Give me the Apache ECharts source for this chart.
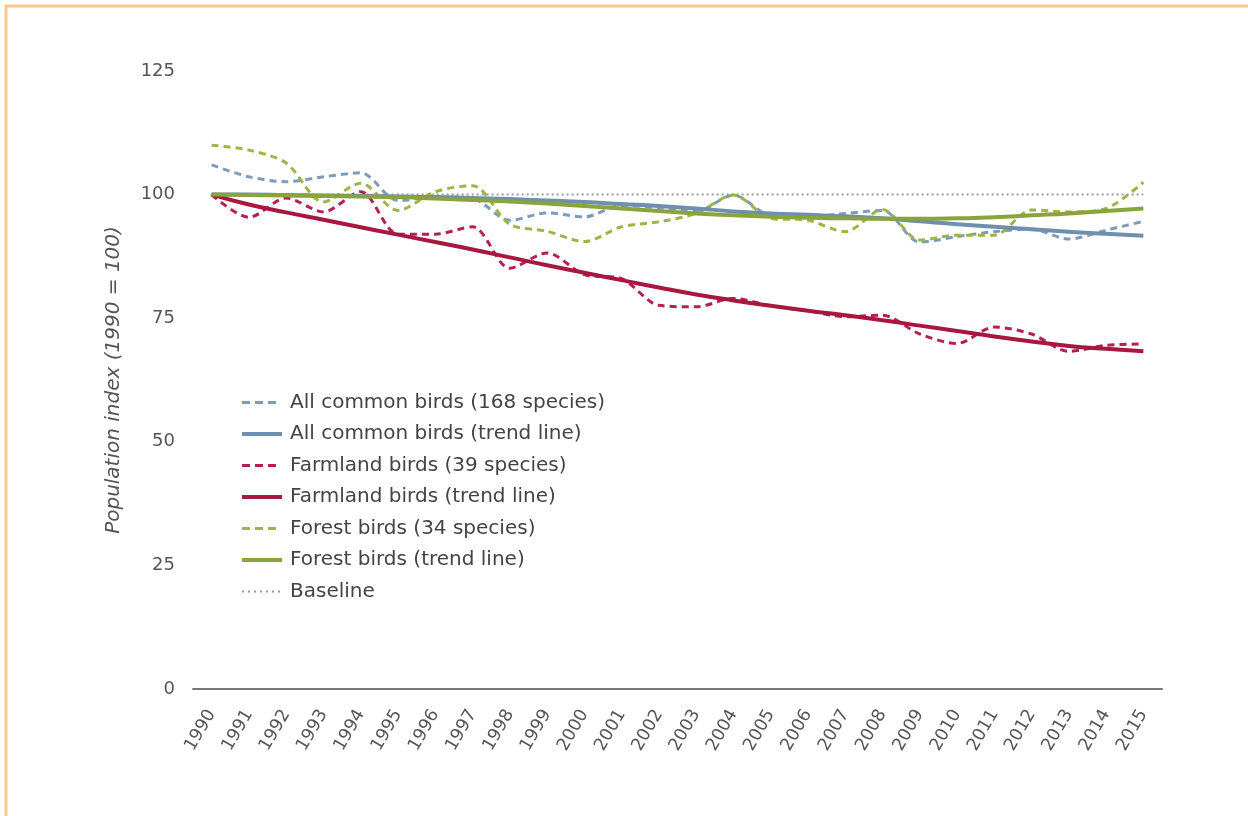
<!DOCTYPE html>
<html>
<head>
<meta charset="utf-8">
<script src="https://cdn.jsdelivr.net/npm/echarts@6/dist/echarts.min.js"></script>
<style>
html,body{margin:0;padding:0;background:#fff;}
#chart{width:1248px;height:816px;}
</style>
</head>
<body>
<div id="chart"></div>
<script>
const years = ['1990','1991','1992','1993','1994','1995','1996','1997','1998','1999','2000','2001','2002','2003','2004','2005','2006','2007','2008','2009','2010','2011','2012','2013','2014','2015'];
const yTicks = [0, 25, 50, 75, 100, 125];

const allBirds = [106, 103.6, 102.6, 103.6, 104.4, 98.8, 99.5, 99.2, 94.8, 96.3, 95.5, 97.8, 97.3, 96.6, 99.9, 95.8, 95.6, 96.2, 96.8, 90.4, 91.5, 92.5, 93.0, 91.0, 92.8, 94.6];
const allTrend = [100, 100, 99.9, 99.8, 99.7, 99.6, 99.5, 99.3, 99.1, 98.8, 98.5, 98.1, 97.7, 97.2, 96.6, 96.2, 95.9, 95.6, 95.2, 94.6, 94.0, 93.5, 93.0, 92.5, 92.1, 91.7];
const farmBirds = [100, 95.4, 99.3, 96.5, 100.6, 92.0, 92.0, 93.5, 85.1, 88.2, 83.8, 83.0, 77.6, 77.3, 79.0, 77.5, 76.5, 75.3, 75.6, 71.8, 69.9, 73.2, 71.8, 68.3, 69.5, 69.8];
const farmTrend = [100, 98.0, 96.4, 94.9, 93.4, 91.9, 90.4, 88.9, 87.3, 85.7, 84.2, 82.7, 81.2, 79.8, 78.6, 77.5, 76.5, 75.6, 74.6, 73.5, 72.4, 71.3, 70.3, 69.4, 68.8, 68.3];
const forestBirds = [110, 109, 106.4, 98.5, 102.3, 96.8, 100.6, 101.8, 94.0, 92.6, 90.5, 93.5, 94.5, 96.2, 99.9, 95.2, 94.8, 92.5, 97.0, 90.8, 91.8, 91.8, 96.9, 96.5, 97.2, 102.5];
const forestTrend = [100, 99.9, 99.8, 99.7, 99.6, 99.5, 99.2, 98.9, 98.6, 98.2, 97.7, 97.2, 96.7, 96.2, 95.8, 95.5, 95.3, 95.2, 95.1, 95.1, 95.2, 95.4, 95.8, 96.2, 96.7, 97.2];
const baseline = [100, 100, 100, 100, 100, 100, 100, 100, 100, 100, 100, 100, 100, 100, 100, 100, 100, 100, 100, 100, 100, 100, 100, 100, 100, 100];

const names = ['All common birds (168 species)', 'All common birds (trend line)', 'Farmland birds (39 species)', 'Farmland birds (trend line)', 'Forest birds (34 species)', 'Forest birds (trend line)', 'Baseline'];

const BLUE_D = '#7b9cbd', BLUE = '#6f8fae';
const RED_D = '#b4204f', RED = '#a8173f';
const GREEN_D = '#9db547', GREEN = '#8aa33a';
const GRAY = '#9a9a9a';

// legend sample shapes (40 x 4 box)
const ICON_DASH = 'path://M0,0.5h8v3h-8z M13,0.5h8v3h-8z M26,0.5h8v3h-8z M39.99,0h0.01v4h-0.01z';
const ICON_SOLID = 'path://M0,0h40v4h-40z';
const ICON_DOT = 'path://M0,1h2v2h-2z M6,1h2v2h-2z M12,1h2v2h-2z M18,1h2v2h-2z M24,1h2v2h-2z M30,1h2v2h-2z M36,1h2v2h-2z M39.99,0h0.01v4h-0.01z M0,0h0.01v0.01h-0.01z';
const icons = [ICON_DASH, ICON_SOLID, ICON_DASH, ICON_SOLID, ICON_DASH, ICON_SOLID, ICON_DOT];

function dashed(name, data, color) {
  return { name, type: 'line', data, smooth: 0.3, symbol: 'none', z: 3,
    lineStyle: { color, width: 3, type: [7, 5] }, itemStyle: { color } };
}
function trend(name, data, color) {
  return { name, type: 'line', data, smooth: true, symbol: 'none', z: 4,
    lineStyle: { color, width: 4 }, itemStyle: { color } };
}

const chart = echarts.init(document.getElementById('chart'));
chart.setOption({
  animation: false,
  backgroundColor: '#fff',
  graphic: [{
    type: 'rect', shape: { x: 6, y: 6, width: 1400, height: 1000 },
    style: { fill: 'none', stroke: '#fdc690', lineWidth: 3 }, silent: true
  }],
  grid: { left: 193, right: 86, top: 71, bottom: 127 },
  legend: {
    orient: 'vertical', left: 242, top: 392.5, padding: 0,
    itemWidth: 40, itemHeight: 4, itemGap: 11.5,
    symbolKeepAspect: false,
    data: names.map((n, i) => ({ name: n, icon: icons[i] })),
    textStyle: { fontFamily: 'DejaVu Sans', fontSize: 20, color: '#444', padding: [0, 0, 0, 3] }
  },
  xAxis: {
    type: 'category', data: years, boundaryGap: true,
    axisLine: { lineStyle: { color: '#777', width: 2 } },
    axisTick: { show: false },
    axisLabel: { rotate: 60, interval: 0, fontFamily: 'DejaVu Sans', fontSize: 17.5, color: '#555', margin: 22 }
  },
  yAxis: {
    type: 'value', min: 0, max: 125, interval: 25,
    name: 'Population index (1990 = 100)', nameLocation: 'middle', nameGap: 69,
    nameTextStyle: { fontFamily: 'DejaVu Sans', fontSize: 20, fontStyle: 'italic', color: '#555' },
    axisLine: { show: false }, axisTick: { show: false }, splitLine: { show: false },
    axisLabel: { fontFamily: 'DejaVu Sans', fontSize: 18, color: '#555', margin: 18,
      formatter: v => yTicks.includes(v) ? String(v) : '' }
  },
  series: [
    dashed(names[0], allBirds, BLUE_D),
    trend(names[1], allTrend, BLUE),
    dashed(names[2], farmBirds, RED_D),
    trend(names[3], farmTrend, RED),
    dashed(names[4], forestBirds, GREEN_D),
    trend(names[5], forestTrend, GREEN),
    { name: names[6], type: 'line', data: baseline, symbol: 'none', z: 2,
      lineStyle: { color: GRAY, width: 2, type: [2, 3] }, itemStyle: { color: GRAY } }
  ]
});
</script>
</body>
</html>
